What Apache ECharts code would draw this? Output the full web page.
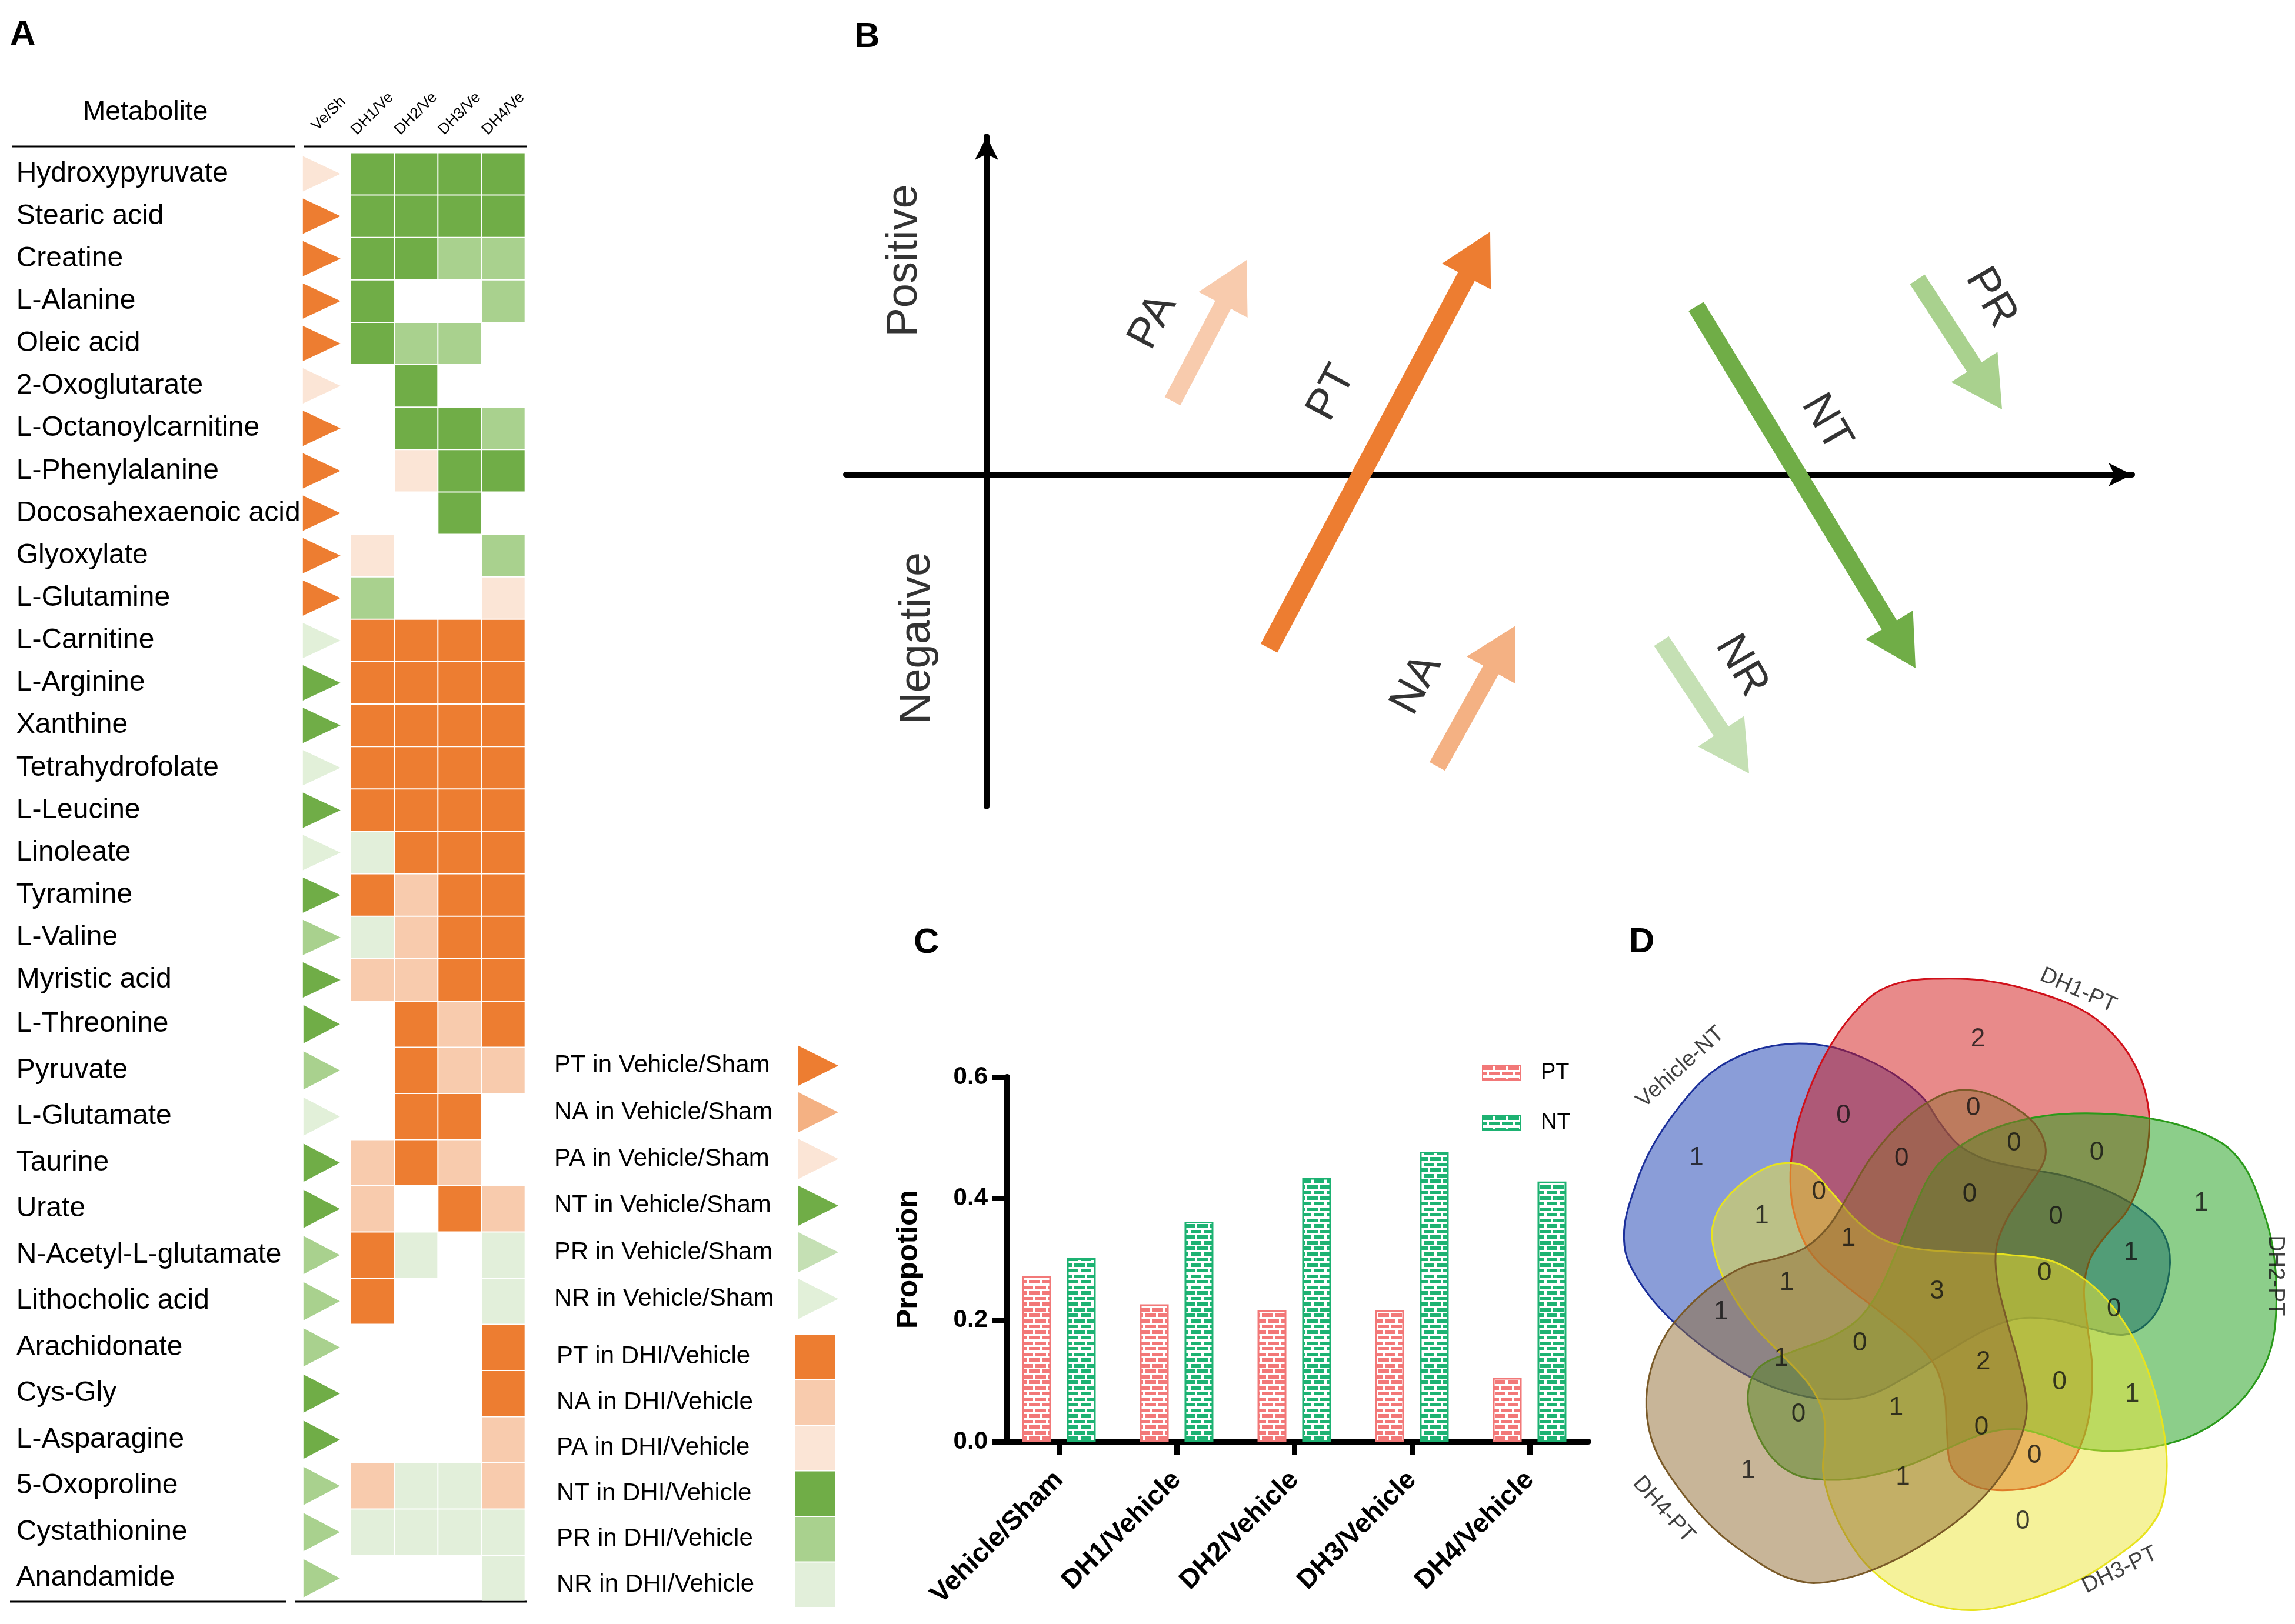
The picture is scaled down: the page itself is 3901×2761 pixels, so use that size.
<!DOCTYPE html>
<html><head><meta charset="utf-8">
<script src="https://cdn.jsdelivr.net/npm/echarts@6/dist/echarts.min.js"></script>
<style>html,body{margin:0;padding:0;background:#fff}#c{width:3901px;height:2761px}</style>
</head><body><div id="c"></div>
<script>
const FONT = '"Liberation Sans", Arial, Helvetica, sans-serif';

// ---------------- Panel A data ----------------
const metabolites = ['Hydroxypyruvate','Stearic acid','Creatine','L-Alanine','Oleic acid','2-Oxoglutarate','L-Octanoylcarnitine','L-Phenylalanine','Docosahexaenoic acid','Glyoxylate','L-Glutamine','L-Carnitine','L-Arginine','Xanthine','Tetrahydrofolate','L-Leucine','Linoleate','Tyramine','L-Valine','Myristic acid','L-Threonine','Pyruvate','L-Glutamate','Taurine','Urate','N-Acetyl-L-glutamate','Lithocholic acid','Arachidonate','Cys-Gly','L-Asparagine','5-Oxoproline','Cystathionine','Anandamide'];
const columnLabels = ['Ve/Sh','DH1/Ve','DH2/Ve','DH3/Ve','DH4/Ve'];
const vehSham = ['PA','PT','PT','PT','PT','PA','PT','PT','PT','PT','PT','NR','NT','NT','NR','NT','NR','NT','PR','NT','NT','PR','NR','NT','NT','PR','PR','PR','NT','NT','PR','PR','PR'];
const dh1 = ['NT','NT','NT','NT','NT','','','','','PA','PR','PT','PT','PT','PT','PT','NR','PT','NR','NA','','','','NA','NA','PT','PT','','','','NA','NR',''];
const dh2 = ['NT','NT','NT','','PR','NT','NT','PA','','','','PT','PT','PT','PT','PT','PT','NA','NA','NA','PT','PT','PT','PT','','NR','','','','','NR','NR',''];
const dh3 = ['NT','NT','PR','','PR','','NT','NT','NT','','','PT','PT','PT','PT','PT','PT','PT','PT','PT','NA','NA','PT','NA','PT','','','','','','NR','NR',''];
const dh4 = ['NT','NT','PR','PR','','','PR','NT','','PR','PA','PT','PT','PT','PT','PT','PT','PT','PT','PT','PT','NA','','','NA','NR','NR','PT','PT','NA','NA','NR','NR'];
const classes = ['PT','NA','PA','NT','PR','NR'];
const legendVS = ['PT in Vehicle/Sham','NA in Vehicle/Sham','PA in Vehicle/Sham','NT in Vehicle/Sham','PR in Vehicle/Sham','NR in Vehicle/Sham'];
const legendDHI = ['PT in DHI/Vehicle','NA in DHI/Vehicle','PA in DHI/Vehicle','NT in DHI/Vehicle','PR in DHI/Vehicle','NR in DHI/Vehicle'];

// ---------------- Panel B data ----------------
const arrowNames = ['PA','PT','NA','NT','PR','NR'];
const arrowTail = [[316,125],[480,-295],[766,-496],[1206,286],[1582,332],[1147,-283]];
const arrowTip  = [[442,365],[856,413],[899,-257],[1579,-329],[1726,111],[1296,-508]];
const arrowLabelAt = [[283,260],[587,139],[731,-357],[1427,88],[1707,301],[1283,-325]];
const axisNamesB = ['Positive','Negative'];

// ---------------- Panel C data ----------------
const groupsC = ['Vehicle/Sham','DH1/Vehicle','DH2/Vehicle','DH3/Vehicle','DH4/Vehicle'];
const ptProp = [0.272,0.226,0.216,0.216,0.105];
const ntProp = [0.302,0.362,0.434,0.477,0.428];

// ---------------- Panel D data ----------------
const vennSets = ['DH1-PT','DH2-PT','DH3-PT','DH4-PT','Vehicle-NT'];
const vennCounts = [2,0,0,1,0,0,0,0,0,1,1,0,1,1,0,1,3,1,0,0,2,1,0,1,1,0,0,0,1,1,0];

// ---------------- styles / layout ----------------
const cellColor = {PT:'#ED7D31',NA:'#F8CBAD',PA:'#FBE5D6',NT:'#70AD47',PR:'#A9D18E',NR:'#E2EFDA'};
const triColor  = {PT:'#ED7D31',NA:'#F4B183',PA:'#FBE5D6',NT:'#70AD47',PR:'#A9D18E',NR:'#E2F0D9'};
const legendTriColor = {PT:'#ED7D31',NA:'#F4B183',PA:'#FBE5D6',NT:'#70AD47',PR:'#C5E0B4',NR:'#E2F0D9'};
const arrowColor = {PA:'#F8CBAD',PT:'#ED7D31',NA:'#F4B183',NT:'#70AD47',PR:'#A9D18E',NR:'#C5E0B4'};
const arrowLabelRot = [62,62,62,-60,-60,-60];
const axisNamePos = [[-139,364],[-117,-278]];

const vennAngle = [0,72,144,216,288];
const vennShift = [[0,0],[39,16],[26,65],[39,100],[0,42]];
const vennScale = [1,1.03,1,1,1];
const vennDrawOrder = [4,0,1,2,3];
const vennFill = ['rgba(209,21,21,0.5)','rgba(25,157,21,0.5)','rgba(235,229,53,0.5)','rgba(145,107,49,0.5)','rgba(21,59,177,0.5)'];
const vennStroke = ['#d0101a','#2a9a1a','#e8e31e','#7a5a28','#1b2f9a'];
const vennBase = [[9,-695],[129,-690],[249,-660],[349,-615],[419,-550],[464,-470],[484,-385],[481,-305],[464,-225],[434,-155],[389,-100],[354,-45],[341,25],[349,115],[359,205],[354,305],[334,385],[299,445],[239,480],[149,490],[89,475],[49,435],[39,355],[34,275],[14,205],[-31,145],[-111,75],[-191,10],[-261,-60],[-296,-145],[-306,-225],[-299,-315],[-276,-405],[-236,-505],[-186,-590],[-121,-660],[-61,-687]];
const vennCountAt = [[107,-555],[97,-395],[-189,-378],[-513,-280],[187,-313],[369,-292],[-61,-278],[-243,-200],[89,-195],[599,-175],[-369,-145],[279,-143],[-178,-93],[444,-60],[254,-13],[-314,10],[17,30],[-459,77],[407,70],[-153,150],[119,193],[-326,185],[287,240],[447,268],[-73,300],[-288,315],[115,345],[232,410],[-399,445],[-58,460],[206,563]];
const vennSetAt = [[328,-668],[762,-7],[420,675],[-585,535],[-548,-490]];
const vennSetRot = [-24,-90,26,-48,42];

// ---------------- helpers ----------------
function brick(color){
  const cv = document.createElement('canvas'); cv.width = 22; cv.height = 19;
  const g = cv.getContext('2d');
  g.fillStyle = '#ffffff'; g.fillRect(0,0,22,19);
  g.fillStyle = color;
  g.fillRect(0,1,18,6);
  g.fillRect(-11,10,18,6); g.fillRect(11,10,18,6);
  return {image: cv, repeat: 'repeat'};
}
function cellData(from, to){
  const out = [];
  const cols = [dh1, dh2, dh3, dh4];
  for (let r = from; r < to; r++) {
    cols.forEach((arr, j) => { if (arr[r]) out.push([j+1, r-from, classes.indexOf(arr[r])]); });
  }
  return out;
}
function triData(from, to){
  const out = [];
  for (let r = from; r < to; r++) out.push({value:[0, r-from], itemStyle:{color: triColor[vehSham[r]], opacity:1}});
  return out;
}
function renderCell(params, api){
  const c = api.coord([api.value(0), api.value(1)]);
  const s = api.size([1,1]);
  return {type:'rect', shape:{x:c[0]-s[0]/2+1, y:c[1]-s[1]/2+1, width:s[0]-2, height:s[1]-2},
          style:{fill: cellColor[classes[api.value(2)]]}};
}
function renderArrow(params, api){
  const p1 = api.coord([api.value(0), api.value(1)]);
  const p2 = api.coord([api.value(2), api.value(3)]);
  const dx = p2[0]-p1[0], dy = p2[1]-p1[1];
  const L = Math.hypot(dx,dy), ux = dx/L, uy = dy/L, nx = -uy, ny = ux;
  const name = arrowNames[params.dataIndex];
  const sw = name === 'PT' ? 16 : 15, hw = 47, hl = 86;
  const bx = p2[0]-ux*hl, by = p2[1]-uy*hl;
  const pts = [[p1[0]+nx*sw,p1[1]+ny*sw],[bx+nx*sw,by+ny*sw],[bx+nx*hw,by+ny*hw],[p2[0],p2[1]],
               [bx-nx*hw,by-ny*hw],[bx-nx*sw,by-ny*sw],[p1[0]-nx*sw,p1[1]-ny*sw]];
  return {type:'polygon', shape:{points:pts}, style:{fill: arrowColor[name]}};
}
function renderVenn(params, api){
  const k = api.value(2);
  const a = vennAngle[k]*Math.PI/180, c = Math.cos(a), s = Math.sin(a);
  const sc = vennScale[k], sh = vennShift[k];
  const pts = vennBase.map(([x,y]) => api.coord([(x*c - y*s)*sc + sh[0], (x*s + y*c)*sc + sh[1]]));
  return {type:'polygon', shape:{points:pts, smooth:0.35},
          style:{fill: vennFill[k], stroke: vennStroke[k], lineWidth: 3}};
}
const hiddenCat = (data) => ({type:'category', data, show:false});
const rowAxis = (data, gi, margin, size) => ({type:'category', data, inverse:true, gridIndex:gi,
  axisLine:{show:false}, axisTick:{show:false}, splitLine:{show:false},
  axisLabel:{align:'left', margin, fontSize:size, color:'#000', interval:0, fontFamily:FONT}});

const triPath = 'path://M0 0L10 5L0 10Z';

const option = {
  animation:false,
  backgroundColor:'#fff',
  textStyle:{fontFamily:FONT},
  title:[
    {text:'A', left:17, top:29, padding:0, textStyle:{fontSize:60, fontWeight:'bold', color:'#000', lineHeight:60}},
    {text:'B', left:1452, top:33, padding:0, textStyle:{fontSize:60, fontWeight:'bold', color:'#000', lineHeight:60}},
    {text:'C', left:1553, top:1573, padding:0, textStyle:{fontSize:60, fontWeight:'bold', color:'#000', lineHeight:60}},
    {text:'D', left:2769, top:1572, padding:0, textStyle:{fontSize:60, fontWeight:'bold', color:'#000', lineHeight:60}},
    {text:'Metabolite', left:141, top:168, padding:0, textStyle:{fontSize:46, fontWeight:'normal', color:'#000', lineHeight:46}}
  ],
  graphic:[
    {type:'line', shape:{x1:20,y1:249,x2:502,y2:249}, style:{stroke:'#000', lineWidth:3}},
    {type:'line', shape:{x1:517,y1:249,x2:895,y2:249}, style:{stroke:'#000', lineWidth:3}},
    {type:'line', shape:{x1:17,y1:2723,x2:486,y2:2723}, style:{stroke:'#000', lineWidth:3}},
    {type:'line', shape:{x1:502,y1:2723,x2:895,y2:2723}, style:{stroke:'#000', lineWidth:3}}
  ],
  legend:{data:['PT','NT'], orient:'vertical', left:2514, top:1800, itemWidth:64, itemHeight:24, itemGap:47,
    icon:'rect', selectedMode:false,
    textStyle:{fontSize:38, color:'#000', lineHeight:38, padding:[0,0,0,30], fontFamily:FONT}},
  grid:[
    {left:521.7, top:259.4, width:371, height:1442.6},
    {left:521.7, top:1702, width:371, height:1020.5},
    {left:1357, top:1772, width:68, height:476},
    {left:1350, top:2268, width:70, height:465},
    {left:1438, top:232, width:2186, height:1139},
    {left:1700, top:1831, width:1000, height:620},
    {left:2662, top:1587, width:1234.6, height:1234.6}
  ],
  xAxis:[
    {type:'category', data:columnLabels, gridIndex:0, position:'top',
      axisLine:{show:false}, axisTick:{show:false}, splitLine:{show:false},
      axisLabel:{rotate:-45, margin:66, fontSize:26, color:'#000', interval:0, align:'center', verticalAlign:'middle', fontFamily:FONT}},
    Object.assign(hiddenCat(columnLabels), {gridIndex:1}),
    Object.assign(hiddenCat(['tri']), {gridIndex:2}),
    Object.assign(hiddenCat(['sq']), {gridIndex:3}),
    {type:'value', gridIndex:4, min:-239, max:1947, splitLine:{show:false}, axisTick:{show:false}, axisLabel:{show:false},
      axisLine:{show:true, onZero:true, symbol:['none','arrow'], symbolSize:[30,40], lineStyle:{color:'#000', width:10}}},
    {type:'category', data:groupsC, gridIndex:5,
      axisLine:{lineStyle:{color:'#000', width:10}},
      axisTick:{show:true, alignWithLabel:true, length:22, lineStyle:{color:'#000', width:9}},
      axisLabel:{rotate:45, margin:58, fontSize:46, fontWeight:'bold', color:'#000', interval:0, fontFamily:FONT}},
    {type:'value', gridIndex:6, min:-800, max:800, show:false}
  ],
  yAxis:[
    rowAxis(metabolites.slice(0,20), 0, 494, 48),
    rowAxis(metabolites.slice(20), 1, 494, 48),
    rowAxis(legendVS, 2, 415, 42),
    rowAxis(legendDHI, 3, 404, 42),
    {type:'value', gridIndex:4, min:-564, max:575, splitLine:{show:false}, axisTick:{show:false}, axisLabel:{show:false},
      axisLine:{show:true, onZero:true, symbol:['none','arrow'], symbolSize:[30,40], lineStyle:{color:'#000', width:10}}},
    {type:'value', gridIndex:5, min:0, max:0.6, interval:0.2, offset:-12,
      name:'Propotion', nameLocation:'middle', nameGap:142, nameRotate:90,
      nameTextStyle:{fontSize:50, fontWeight:'bold', color:'#000', fontFamily:FONT},
      axisLine:{show:true, lineStyle:{color:'#000', width:10}},
      axisTick:{show:true, length:26, lineStyle:{color:'#000', width:9}},
      splitLine:{show:false},
      axisLabel:{margin:33, fontSize:42, fontWeight:'bold', color:'#000', formatter:v => v.toFixed(1), fontFamily:FONT}},
    {type:'value', gridIndex:6, min:-800, max:800, inverse:true, show:false}
  ],
  series:[
    {type:'custom', name:'cellsA1', xAxisIndex:0, yAxisIndex:0, data:cellData(0,20), renderItem:renderCell},
    {type:'scatter', name:'triA1', xAxisIndex:0, yAxisIndex:0, data:triData(0,20), symbol:triPath, symbolSize:[64,60], symbolOffset:[-12,0], itemStyle:{opacity:1}},
    {type:'custom', name:'cellsA2', xAxisIndex:1, yAxisIndex:1, data:cellData(20,33), renderItem:renderCell},
    {type:'scatter', name:'triA2', xAxisIndex:1, yAxisIndex:1, data:triData(20,33), symbol:triPath, symbolSize:[62,65], symbolOffset:[-12,0], itemStyle:{opacity:1}},
    {type:'scatter', name:'legTri', xAxisIndex:2, yAxisIndex:2, symbol:triPath, symbolSize:[68,68], itemStyle:{opacity:1},
      data:classes.map((c,i) => ({value:[0,i], itemStyle:{color:legendTriColor[c], opacity:1}}))},
    {type:'custom', name:'legSq', xAxisIndex:3, yAxisIndex:3, renderItem:renderCell,
      data:classes.map((c,i) => [0,i,i])},
    {type:'custom', name:'arrowsB', xAxisIndex:4, yAxisIndex:4, renderItem:renderArrow,
      data:arrowNames.map((n,i) => [arrowTail[i][0],arrowTail[i][1],arrowTip[i][0],arrowTip[i][1]])},
    {type:'scatter', name:'labelsB', xAxisIndex:4, yAxisIndex:4, symbolSize:1, itemStyle:{color:'rgba(0,0,0,0)'},
      label:{show:true, position:'inside', color:'#000', fontSize:74, fontFamily:FONT, formatter:p => p.value[2]},
      data:arrowNames.map((n,i) => ({value:[arrowLabelAt[i][0],arrowLabelAt[i][1],n], label:{rotate:arrowLabelRot[i]}}))
        .concat(axisNamesB.map((n,i) => ({value:[axisNamePos[i][0],axisNamePos[i][1],n], label:{rotate:90}})))},
    {type:'bar', name:'PT', xAxisIndex:5, yAxisIndex:5, data:ptProp, barWidth:49, barGap:'55%',
      itemStyle:{color:brick('#F27878'), borderColor:'#F27878', borderWidth:3}},
    {type:'bar', name:'NT', xAxisIndex:5, yAxisIndex:5, data:ntProp, barWidth:49, barGap:'55%',
      itemStyle:{color:brick('#1DB272'), borderColor:'#1DB272', borderWidth:3}},
    {type:'custom', name:'venn', xAxisIndex:6, yAxisIndex:6, renderItem:renderVenn,
      data:vennDrawOrder.map(k => [0,0,k])},
    {type:'scatter', name:'vennCounts', xAxisIndex:6, yAxisIndex:6, symbolSize:1, clip:false, itemStyle:{color:'rgba(0,0,0,0)'},
      label:{show:true, position:'inside', color:'#111', fontSize:44, fontFamily:FONT, formatter:p => String(p.value[2])},
      data:vennCounts.map((v,i) => [vennCountAt[i][0], vennCountAt[i][1], v])},
    {type:'scatter', name:'vennSets', xAxisIndex:6, yAxisIndex:6, symbolSize:1, clip:false, itemStyle:{color:'rgba(0,0,0,0)'},
      label:{show:true, position:'inside', color:'#111', fontSize:38, fontFamily:FONT, formatter:p => p.value[2]},
      data:vennSets.map((s,i) => ({value:[vennSetAt[i][0], vennSetAt[i][1], s], label:{rotate:vennSetRot[i]}}))}
  ]
};
const chart = echarts.init(document.getElementById('c'), null, {renderer:'canvas', width:3901, height:2761});
chart.setOption(option);
</script>
</body></html>
